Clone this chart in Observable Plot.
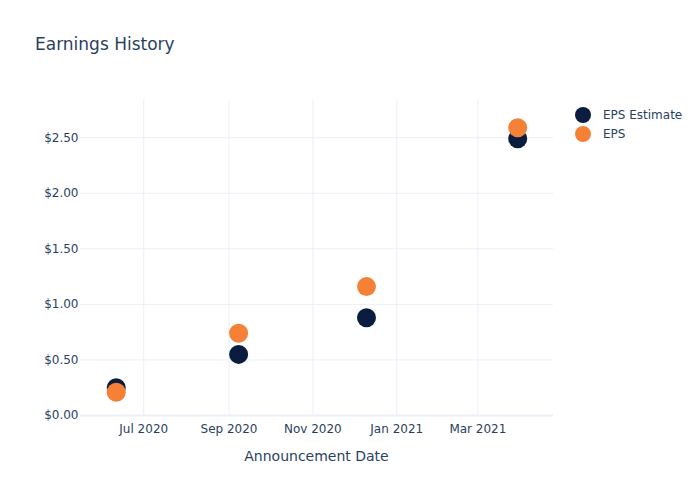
<!DOCTYPE html>
<html>
<head>
<meta charset="utf-8">
<script src="https://cdn.jsdelivr.net/npm/d3@7"></script>
<script src="https://cdn.jsdelivr.net/npm/@observablehq/plot@0.6"></script>
<style>
  html, body { margin: 0; padding: 0; background: #fff; }
  #wrap { position: relative; width: 700px; height: 500px; font-family: "DejaVu Sans", Verdana, sans-serif; color: #2a3f5f; }
  #title { position: absolute; left: 35px; top: 34px; font-size: 17px; white-space: nowrap; }
  #xlabel { position: absolute; left: 80px; width: 473px; top: 448px; text-align: center; font-size: 14px; }
  #legend { position: absolute; left: 575px; top: 105px; font-size: 12px; }
  .item { display: flex; align-items: center; height: 19px; }
  .sw { width: 16px; height: 16px; border-radius: 50%; margin-right: 12px; }
  #chart { position: absolute; left: 0; top: 0; }
</style>
</head>
<body>
<div id="wrap">
  <div id="chart"></div>
  <div id="title">Earnings History</div>
  <div id="xlabel">Announcement Date</div>
  <div id="legend"></div>
</div>
<script>
// Data
const dates = ["2020-06-11", "2020-09-08", "2020-12-10", "2021-03-30"];
const epsEstimate = [0.25, 0.55, 0.88, 2.49];
const epsActual = [0.21, 0.74, 1.16, 2.59];
const seriesNames = ["EPS Estimate", "EPS"];
const seriesColors = ["#0b1d3e", "#f58137"];
const yTicks = [0, 0.5, 1, 1.5, 2, 2.5];
const xTicks = ["2020-07-01", "2020-09-01", "2020-11-01", "2021-01-01", "2021-03-01"];
const xDomain = ["2020-05-16", "2021-04-25"];
const yDomain = [0, 2.835];

const rows = [];
dates.forEach((d, i) => rows.push({date: new Date(d), value: epsEstimate[i], series: seriesNames[0]}));
dates.forEach((d, i) => rows.push({date: new Date(d), value: epsActual[i], series: seriesNames[1]}));
const xTickDates = xTicks.map(d => new Date(d));
const fmtMonth = d3.utcFormat("%b %Y");

const chart = Plot.plot({
  width: 700,
  height: 500,
  marginLeft: 80,
  marginRight: 147,
  marginTop: 100,
  marginBottom: 85,
  style: {fontFamily: "DejaVu Sans, Verdana, sans-serif", fontSize: "12px", color: "#2a3f5f", background: "transparent"},
  x: {type: "utc", domain: xDomain.map(d => new Date(d))},
  y: {domain: yDomain},
  color: {domain: seriesNames, range: seriesColors},
  marks: [
    Plot.gridY(yTicks, {stroke: "#ebf0f8", strokeOpacity: 1, strokeWidth: 1}),
    Plot.gridX(xTickDates, {stroke: "#ebf0f8", strokeOpacity: 1, strokeWidth: 1}),
    Plot.ruleY([0], {stroke: "#ebf0f8", strokeWidth: 2}),
    Plot.axisY(yTicks, {tickSize: 0, tickPadding: 2, tickFormat: d => "$" + d.toFixed(2), label: null, fontSize: 12}),
    Plot.axisX(xTickDates, {tickSize: 0, tickPadding: 9, tickFormat: fmtMonth, label: null, fontSize: 12}),
    Plot.dot(rows, {x: "date", y: "value", fill: "series", r: 9.5, stroke: "none"})
  ]
});
document.getElementById("chart").appendChild(chart);

const legend = document.getElementById("legend");
seriesNames.forEach((name, i) => {
  const item = document.createElement("div");
  item.className = "item";
  const sw = document.createElement("div");
  sw.className = "sw";
  sw.style.background = seriesColors[i];
  const t = document.createElement("span");
  t.textContent = name;
  item.appendChild(sw);
  item.appendChild(t);
  legend.appendChild(item);
});
</script>
</body>
</html>
